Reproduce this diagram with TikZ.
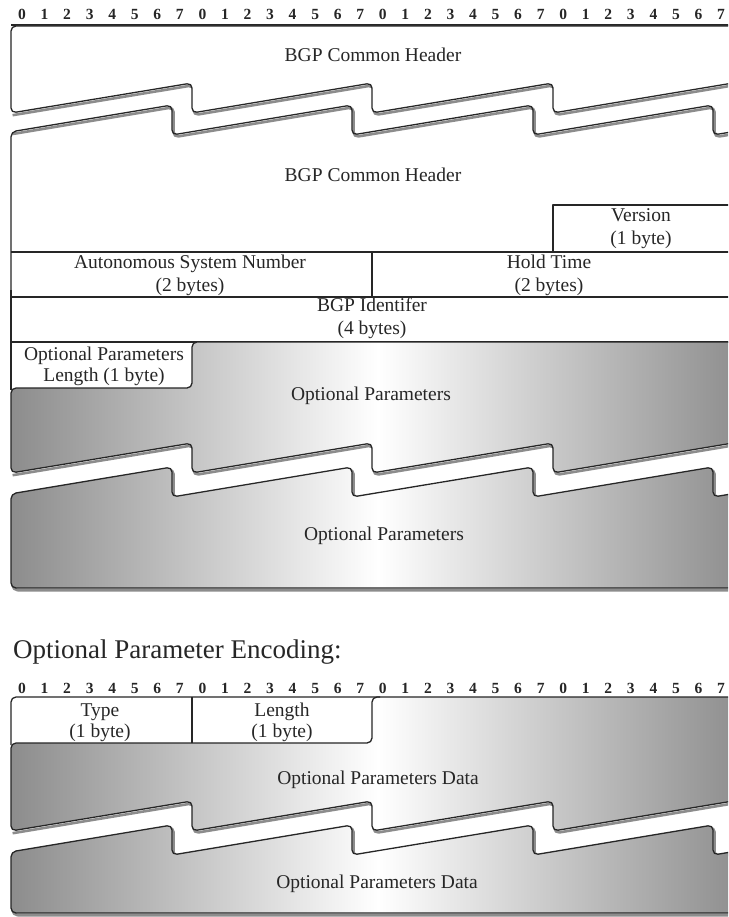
\documentclass[tikz,border=0pt]{standalone}
\usepackage{fontspec}
\setmainfont{Liberation Serif}
\definecolor{gdark}{gray}{0.55}
\definecolor{ink}{gray}{0.15}
\begin{document}
\begin{tikzpicture}[x=1pt,y=-1pt,line join=round,
  edge/.style={draw=ink,line width=1.3pt,rounded corners=5pt},
  thin/.style={draw=ink,line width=1.1pt},
  shadowline/.style={draw=black!45,line width=2.6pt,rounded corners=5pt,shift={(1.6,2.2)}},
  grad/.style={left color=gdark,right color=gdark,middle color=white},
  lbl/.style={text=ink,font=\fontsize{19.5}{23}\selectfont,align=center,inner sep=0pt},
  bitlbl/.style={text=ink,font=\fontsize{15.5}{15.5}\selectfont\bfseries,inner sep=0pt,anchor=base}]
\useasboundingbox (0,0) rectangle (728,917);
\clip (0,0) rectangle (728,917);
\fill[white] (0,0) rectangle (728,917);

% ---------- ruler 1 ----------
\foreach \k in {0,...,31}{
  \pgfmathtruncatemacro\bb{mod(\k,8)}
  \node[bitlbl] (ra\k) at ({22+\k*22.55},19.5) {\bb};
}
\draw[thin] (11,25) -- (745,25);

% ---------- block 1 : BGP Common Header (top) ----------
\draw[shadowline] (745,111.8) -- (733,113) -- (733,83) -- (553,113) -- (553,83) -- (372,113) -- (372,83) -- (192,113) -- (192,83) -- (11,113);
\draw[edge,fill=white] (11,113) -- (11,26) -- (745,26) -- (745,111.8) -- (733,113) -- (733,83) -- (553,113) -- (553,83) -- (372,113) -- (372,83) -- (192,113) -- (192,83) -- cycle;
\node[lbl] (hdr1) at (373,55) {BGP Common Header};

% ---------- block 2 : BGP Common Header (continued) + fields ----------
\draw[shadowline] (745,129.7) -- (713,135) -- (713,105) -- (533,135) -- (533,105) -- (352,135) -- (352,105) -- (172,135) -- (172,105) -- (11,131.8);
\draw[edge] (745,129.7) -- (713,135) -- (713,105) -- (533,135) -- (533,105) -- (352,135) -- (352,105) -- (172,135) -- (172,105) -- (11,131.8) -- (11,300);
\draw[thin] (11,290) -- (11,390);
\node[lbl] (hdr2) at (373,175) {BGP Common Header};

\draw[thin] (745,205) -- (553,205) -- (553,252);
\node[lbl] (ver) at (641,228.5) {Version\\(1 byte)};
\draw[thin] (11,252) -- (745,252);
\draw[thin] (372,252) -- (372,297);
\node[lbl] (asn) at (190,275) {Autonomous System Number\\(2 bytes)};
\node[lbl] (hold) at (549,275) {Hold Time\\(2 bytes)};
\draw[thin] (11,297) -- (745,297);
\node[lbl] (bgpid) at (372,318.5) {BGP Identifer\\(4 bytes)};
\draw[thin] (11,342) -- (745,342);

% ---------- block 3 : Optional Parameters (gradient) ----------
\draw[shadowline] (745,471.8) -- (733,473) -- (733,443) -- (553,473) -- (553,443) -- (372,473) -- (372,443) -- (192,473) -- (192,443) -- (11,473);
\draw[edge,grad] (11,473) -- (11,388) -- (192,388) -- (192,342) -- (745,342) -- (745,471.8) -- (733,473) -- (733,443) -- (553,473) -- (553,443) -- (372,473) -- (372,443) -- (192,473) -- (192,443) -- cycle;
\node[lbl] (oplen) at (104,366) {Optional Parameters\\[-2pt]Length (1 byte)};
\node[lbl] (op1) at (371,396) {Optional Parameters};

\draw[shadowline] (745,491.7) -- (713,497) -- (713,467) -- (533,497) -- (533,467) -- (352,497) -- (352,467) -- (172,497) -- (172,467) -- (11,493.8) -- (11,588) -- (745,588);
\draw[edge,grad] (11,493.8) -- (172,467) -- (172,497) -- (352,467) -- (352,497) -- (533,467) -- (533,497) -- (713,467) -- (713,497) -- (745,491.7) -- (745,588) -- (11,588) -- cycle;
\node[lbl] (op2) at (384,536) {Optional Parameters};

% ---------- title ----------
\node[text=ink,font=\fontsize{27}{29}\selectfont,anchor=west,inner sep=0pt] (title) at (13,652) {Optional Parameter Encoding:};

% ---------- ruler 2 ----------
\foreach \k in {0,...,31}{
  \pgfmathtruncatemacro\bb{mod(\k,8)}
  \node[bitlbl] (rb\k) at ({22+\k*22.55},693.5) {\bb};
}

% ---------- block 4 : Type / Length / Data ----------
\draw[shadowline] (745,829.8) -- (733,831) -- (733,801) -- (553,831) -- (553,801) -- (372,831) -- (372,801) -- (192,831) -- (192,801) -- (11,831);
\draw[edge,grad] (11,831) -- (11,743) -- (372,743) -- (372,697) -- (745,697) -- (745,829.8) -- (733,831) -- (733,801) -- (553,831) -- (553,801) -- (372,831) -- (372,801) -- (192,831) -- (192,801) -- cycle;
\draw[edge] (11,745) -- (11,697) -- (380,697);
\draw[thin] (192,697) -- (192,743);
\node[lbl] (type) at (100,722.5) {Type\\[-2pt](1 byte)};
\node[lbl] (len) at (282,722.5) {Length\\[-2pt](1 byte)};
\node[lbl] (opd1) at (378,780) {Optional Parameters Data};

\draw[shadowline] (745,849.7) -- (713,855) -- (713,825) -- (533,855) -- (533,825) -- (352,855) -- (352,825) -- (172,855) -- (172,825) -- (11,851.8) -- (11,913) -- (745,913);
\draw[edge,grad] (11,851.8) -- (172,825) -- (172,855) -- (352,825) -- (352,855) -- (533,825) -- (533,855) -- (713,825) -- (713,855) -- (745,849.7) -- (745,913) -- (11,913) -- cycle;
\node[lbl] (opd2) at (377,884) {Optional Parameters Data};
\end{tikzpicture}
\end{document}
